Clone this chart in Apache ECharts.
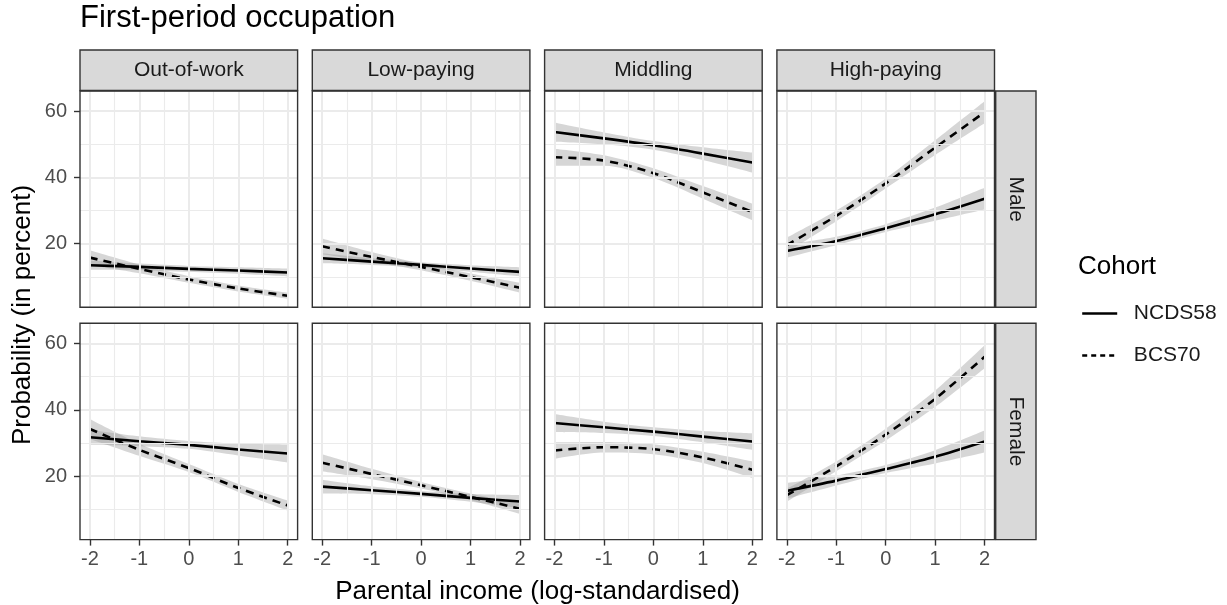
<!DOCTYPE html>
<html>
<head>
<meta charset="utf-8">
<script src="https://cdn.jsdelivr.net/npm/echarts@6/dist/echarts.min.js"></script>
<style>
    html, body { margin: 0; padding: 0; background: #fff; }
    #chart { width: 1227px; height: 605px; }
</style>
</head>
<body>
<div id="chart"></div>
<script>
// facets
const occupations = ["Out-of-work", "Low-paying", "Middling", "High-paying"];
const sexes = ["Male", "Female"];
const cohorts = ["NCDS58", "BCS70"];

// x: parental income (log-standardised)
const income = [-2, -1, 0, 1, 2];

// predicted probability (percent), one row per occupation
const maleNCDS = [
    [13.5, 13.0, 12.4, 11.9, 11.3],
    [15.6, 14.6, 13.6, 12.5, 11.5],
    [53.7, 51.8, 49.7, 47.2, 44.5],
    [17.8, 20.8, 24.7, 28.9, 33.6]
];
const maleBCS = [
    [15.8, 12.4, 9.2, 6.5, 4.3],
    [19.2, 16.0, 13.0, 9.9, 6.7],
    [46.1, 45.1, 41.3, 35.5, 29.6],
    [19.6, 28.4, 38.2, 49.0, 59.7]
];
const femaleNCDS = [
    [31.7, 30.5, 29.4, 28.0, 26.8],
    [16.8, 15.7, 14.6, 13.4, 12.3],
    [36.0, 34.7, 33.4, 31.9, 30.4],
    [15.5, 18.6, 22.1, 25.8, 30.4]
];
const femaleBCS = [
    [34.2, 27.9, 22.4, 16.4, 11.1],
    [24.0, 20.6, 17.2, 13.7, 10.1],
    [27.7, 28.7, 28.1, 25.6, 21.9],
    [14.2, 22.9, 32.5, 43.3, 56.0]
];

// half-width of the confidence band
const maleNCDSci = [
    [1.4, 1.0, 0.9, 1.0, 1.2],
    [1.5, 1.0, 0.8, 1.0, 1.4],
    [2.9, 1.8, 1.3, 1.9, 3.0],
    [2.0, 1.3, 1.2, 2.0, 3.3]
];
const maleBCSci = [
    [2.2, 1.3, 1.0, 0.9, 0.9],
    [2.4, 1.5, 1.0, 1.1, 1.5],
    [2.6, 1.6, 1.5, 1.9, 2.5],
    [2.2, 1.6, 1.5, 2.2, 3.3]
];
const femaleNCDSci = [
    [2.3, 1.5, 1.2, 1.8, 2.7],
    [2.1, 1.2, 0.9, 1.2, 2.0],
    [2.7, 1.7, 1.3, 1.7, 2.5],
    [2.4, 1.5, 1.2, 2.0, 3.3]
];
const femaleBCSci = [
    [3.0, 1.8, 1.2, 1.2, 1.5],
    [2.6, 1.6, 1.0, 1.0, 1.5],
    [2.5, 1.6, 1.5, 1.7, 2.5],
    [2.0, 1.5, 1.8, 2.5, 3.5]
];

// ticks and grid lines
const xTicks = [-2, -1, 0, 1, 2];
const xMinor = [-1.5, -0.5, 0.5, 1.5];
const yTicks = [20, 40, 60];
const yMinor = [10, 30, 50];

const est = { Male: [maleNCDS, maleBCS], Female: [femaleNCDS, femaleBCS] };
const ci = { Male: [maleNCDSci, maleBCSci], Female: [femaleNCDSci, femaleBCSci] };

const font = "Liberation Sans, Arial, sans-serif";
const colLeft = [80, 312.3, 544.6, 776.9];
const rowTop = [91, 323.3];
const panelW = 217.6;
const panelH = 216.3;

const grids = [], xAxes = [], yAxes = [], series = [], graphics = [];

sexes.forEach(function (sex, r) {
    occupations.forEach(function (occ, c) {
        const i = r * 4 + c;
        grids.push({
            left: colLeft[c], top: rowTop[r], width: panelW, height: panelH,
            show: true, backgroundColor: "transparent",
            borderColor: "#333333", borderWidth: 1.4, z: 10
        });
        xAxes.push({
            type: "value", gridIndex: i, min: -2.2, max: 2.2,
            axisLine: { show: false, onZero: false },
            splitLine: { show: false },
            axisTick: { show: r === 1, customValues: xTicks, length: 6, lineStyle: { color: "#333333", width: 1.4 } },
            axisLabel: { show: r === 1, customValues: xTicks, margin: 10, fontSize: 20, color: "#4d4d4d", fontFamily: font }
        });
        yAxes.push({
            type: "value", gridIndex: i, min: 0.8, max: 66.1,
            axisLine: { show: false, onZero: false },
            splitLine: { show: false },
            axisTick: { show: c === 0, customValues: yTicks, length: 6, lineStyle: { color: "#333333", width: 1.4 } },
            axisLabel: { show: c === 0, customValues: yTicks, margin: 13, fontSize: 20, color: "#4d4d4d", fontFamily: font }
        });

        // panel grid lines
        const gl = [];
        xMinor.forEach(v => gl.push({ xAxis: v, lineStyle: { width: 1.1 } }));
        yMinor.forEach(v => gl.push({ yAxis: v, lineStyle: { width: 1.1 } }));
        xTicks.forEach(v => gl.push({ xAxis: v, lineStyle: { width: 2 } }));
        yTicks.forEach(v => gl.push({ yAxis: v, lineStyle: { width: 2 } }));
        series.push({
            type: "line", xAxisIndex: i, yAxisIndex: i, data: [], z: 1, silent: true,
            markLine: {
                silent: true, animation: false, symbol: ["none", "none"],
                label: { show: false }, emphasis: { disabled: true },
                lineStyle: { color: "#ebebeb", type: "solid" },
                data: gl
            }
        });

        cohorts.forEach(function (name, k) {
            const m = est[sex][k][c];
            const h = ci[sex][k][c];
            const stack = "band" + i + "_" + k;
            // confidence band: lower edge + stacked width (value first so y is the stacked dim)
            series.push({
                type: "line", name: "lo", xAxisIndex: i, yAxisIndex: i, stack: stack,
                encode: { x: 1, y: 0 },
                data: income.map((x, j) => [m[j] - h[j], x]),
                showSymbol: false, symbol: "none", smooth: 0.3, silent: true, z: 2,
                lineStyle: { width: 0, opacity: 0 }
            });
            series.push({
                type: "line", name: "band", xAxisIndex: i, yAxisIndex: i, stack: stack,
                encode: { x: 1, y: 0 },
                data: income.map((x, j) => [2 * h[j], x]),
                showSymbol: false, symbol: "none", smooth: 0.3, silent: true, z: 2,
                lineStyle: { width: 0, opacity: 0 },
                areaStyle: { color: "rgba(153,153,153,0.4)", opacity: 1 }
            });
            series.push({
                type: "line", name: name, xAxisIndex: i, yAxisIndex: i, color: "#000",
                data: income.map((x, j) => [x, m[j]]),
                showSymbol: false, symbol: "none", smooth: 0.3, z: 3,
                lineStyle: { color: "#000", width: 2.6, type: k === 0 ? "solid" : [8, 6] }
            });
        });
    });
});

// strips
occupations.forEach(function (occ, c) {
    graphics.push({
        type: "rect", shape: { x: colLeft[c], y: 50, width: panelW, height: 40.5 },
        style: { fill: "#d9d9d9", stroke: "#333333", lineWidth: 1.4 }, z: 20
    });
    graphics.push({
        type: "text", x: colLeft[c] + panelW / 2, y: 70.5, z: 21,
        style: { text: occ, font: "21px " + font, fill: "#1a1a1a", align: "center", verticalAlign: "middle" }
    });
});
sexes.forEach(function (sex, r) {
    graphics.push({
        type: "rect", shape: { x: 995.7, y: rowTop[r], width: 40.3, height: panelH },
        style: { fill: "#d9d9d9", stroke: "#333333", lineWidth: 1.4 }, z: 20
    });
    graphics.push({
        type: "text", x: 1016, y: rowTop[r] + panelH / 2, rotation: -Math.PI / 2, z: 21,
        style: { text: sex, font: "21px " + font, fill: "#1a1a1a", align: "center", verticalAlign: "middle" }
    });
});

// titles
graphics.push({
    type: "text", x: 80, y: 18.5, z: 21,
    style: { text: "First-period occupation", font: "31px " + font, fill: "#000", align: "left", verticalAlign: "middle" }
});
graphics.push({
    type: "text", x: 537.5, y: 592, z: 21,
    style: { text: "Parental income (log-standardised)", font: "26px " + font, fill: "#000", align: "center", verticalAlign: "middle" }
});
graphics.push({
    type: "text", x: 23, y: 315, rotation: Math.PI / 2, z: 21,
    style: { text: "Probability (in percent)", font: "26px " + font, fill: "#000", align: "center", verticalAlign: "middle" }
});
graphics.push({
    type: "text", x: 1078, y: 266.7, z: 21,
    style: { text: "Cohort", font: "26px " + font, fill: "#000", align: "left", verticalAlign: "middle" }
});

const myChart = echarts.init(document.getElementById("chart"));
myChart.setOption({
    animation: false,
    backgroundColor: "#fff",
    legend: {
        data: [
            { name: "NCDS58", lineStyle: { width: 2.4 } },
            { name: "BCS70", lineStyle: { width: 2.4, type: [5, 4] } }
        ],
        orient: "vertical",
        left: 1081, top: 303,
        padding: 0,
        itemWidth: 35, itemHeight: 21, itemGap: 21,
        selectedMode: false,
        itemStyle: { opacity: 0 },
        formatter: name => "  " + name,
        textStyle: { fontSize: 21, color: "#1a1a1a", fontFamily: font }
    },
    grid: grids,
    xAxis: xAxes,
    yAxis: yAxes,
    series: series,
    graphic: graphics
});
</script>
</body>
</html>
